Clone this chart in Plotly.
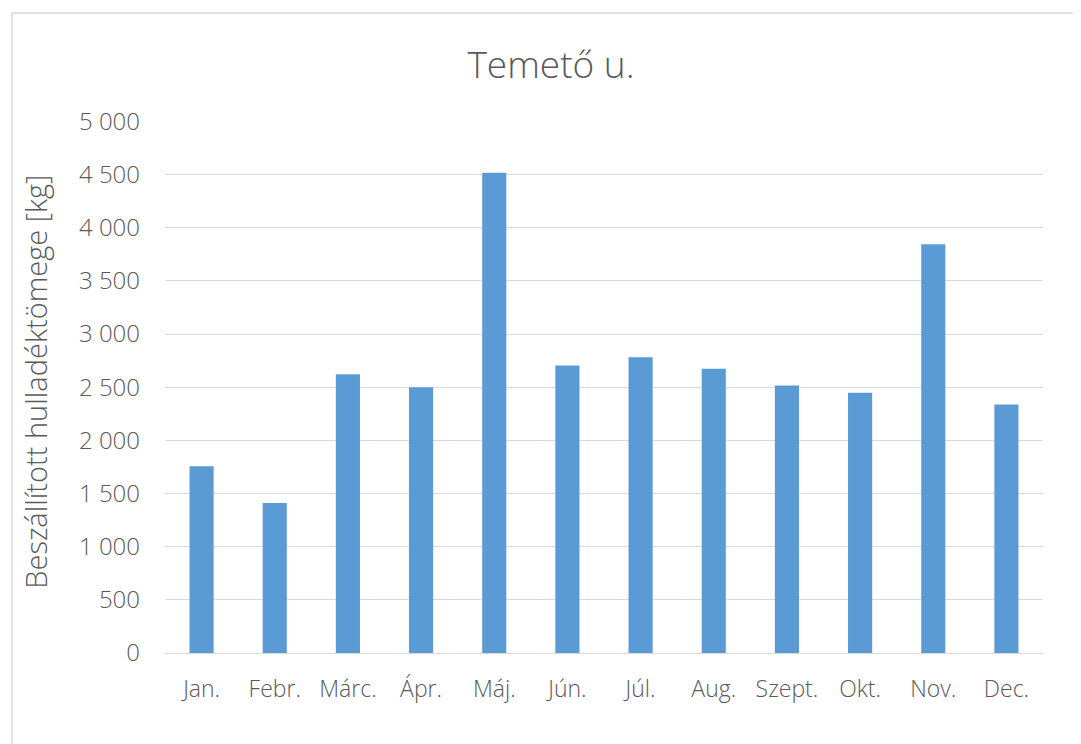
import plotly.graph_objects as go

months = ['Jan.', 'Febr.', 'Márc.', 'Ápr.', 'Máj.', 'Jún.', 'Júl.', 'Aug.',
          'Szept.', 'Okt.', 'Nov.', 'Dec.']
mass_kg = [1757, 1410, 2623, 2499, 4518, 2704, 2782, 2673, 2516, 2447, 3844, 2337]
y_ticks = [0, 500, 1000, 1500, 2000, 2500, 3000, 3500, 4000, 4500, 5000]
y_ticklabels = ['0', '500', '1 000', '1 500', '2 000', '2 500', '3 000',
                '3 500', '4 000', '4 500', '5 000']

# the page puts the figure 8px in from the top-left corner
W, H = 1073, 736
L, R, T, B = 157, 38, 113, 91
pw, ph = W - L - R, H - T - B

FONT = 'Open Sans, Lato, sans-serif'
GREY = '#595959'

fig = go.Figure(go.Bar(
    x=months, y=mass_kg,
    marker=dict(color='#5b9bd5', line=dict(width=0)),
    width=0.33,
))

fig.update_layout(
    width=W, height=H,
    margin=dict(l=L, r=R, t=T, b=B),
    paper_bgcolor='white', plot_bgcolor='white',
    font=dict(family=FONT, color=GREY, size=23, weight=300),
    title=dict(text='Temető u.', x=543 / W, xref='container', xanchor='center',
               y=1 - 57 / H, yanchor='middle',
               font=dict(size=37, color=GREY, weight=300)),
    showlegend=False,
)

fig.update_xaxes(showgrid=False, showline=True, linecolor='#d9d9d9', linewidth=1,
                 ticks='', ticklabelstandoff=15, tickfont=dict(size=23))
fig.update_yaxes(range=[0, 5004], tickvals=y_ticks, ticktext=y_ticklabels,
                 showgrid=True, gridcolor='#d9d9d9', gridwidth=1,
                 zeroline=False, showline=False, ticks='',
                 ticklabelstandoff=24, tickfont=dict(size=24))

# y axis title placed as rotated annotation
fig.add_annotation(text='Beszállított hulladéktömege [kg]', textangle=-90,
                   xref='paper', yref='paper', x=(28 - L) / pw, y=0.51,
                   xanchor='center', yanchor='middle', showarrow=False,
                   font=dict(size=29, color=GREY, weight=300))

# chart border (Excel-style frame)
fig.add_shape(type='rect', xref='paper', yref='paper',
              x0=(4 - L) / pw, x1=(1085 - L) / pw,
              y0=(H - B - 745) / ph, y1=(H - B - 5) / ph,
              line=dict(color='#d9d9d9', width=1.5), fillcolor='rgba(0,0,0,0)',
              layer='below')

fig.write_html('out.html')
